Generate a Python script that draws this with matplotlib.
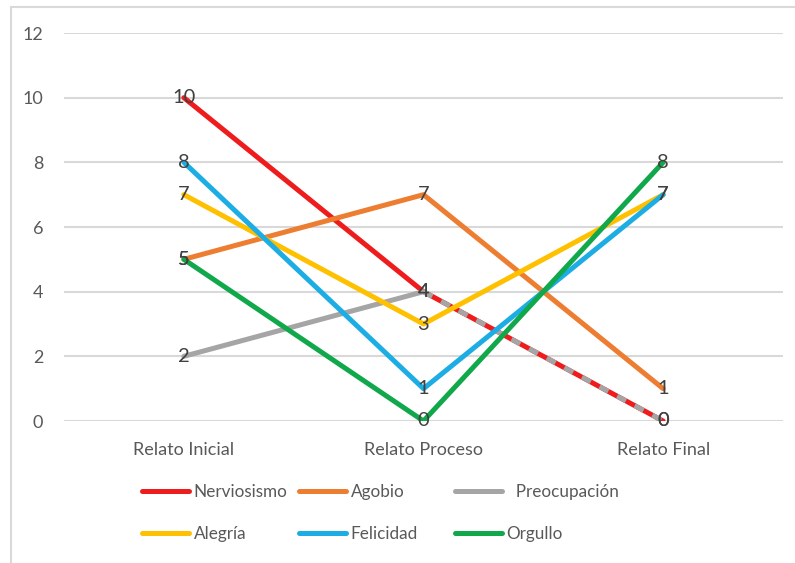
import numpy as np
import matplotlib
matplotlib.use("Agg")
import matplotlib.pyplot as plt
from matplotlib.patches import Rectangle
from matplotlib.lines import Line2D

plt.rcParams["font.family"] = ["Lato", "DejaVu Sans"]

etapas = ["Relato Inicial", "Relato Proceso", "Relato Final"]
nerviosismo = [10, 4, 0]
agobio = [5, 7, 1]
preocupacion = [2, 4, 0]
alegria = [7, 3, 7]
felicidad = [8, 1, 7]
orgullo = [5, 0, 8]

nombres = ["Nerviosismo", "Agobio", "Preocupación", "Alegría", "Felicidad", "Orgullo"]
series = [nerviosismo, agobio, preocupacion, alegria, felicidad, orgullo]
colores = ["#EE1C1C", "#ED7D31", "#A5A5A5", "#FFC000", "#1CADE4", "#10A84A"]

W, H = 795, 563
fig = plt.figure(figsize=(W / 100, H / 100), dpi=100)
ax = fig.add_axes([64 / W, (H - 421) / H, (783 - 64) / W, (421 - 33) / H])

# light frame around the chart area
fig.add_artist(Rectangle((11 / W, -0.1), 1.2, 1.1 - 7 / H, transform=fig.transFigure,
                         fill=False, edgecolor="#D9D9D9", linewidth=1.5))

x = np.arange(len(etapas))
lw = 3.6
for nombre, valores, color in zip(nombres, series, colores):
    valores = np.array(valores)
    if nombre == "Preocupación":
        # segments shared with Nerviosismo are drawn dashed so both stay visible
        comun = (valores[:-1] == nerviosismo[:-1]) & (valores[1:] == nerviosismo[1:])
        for i in range(len(x) - 1):
            seg = ax.plot(x[i:i + 2], valores[i:i + 2], color=color, lw=lw,
                          solid_capstyle="round", zorder=3)[0]
            if comun[i]:
                seg.set_dashes((2, 2))
                seg.set_dash_capstyle("butt")
    else:
        ax.plot(x, valores, color=color, lw=lw, solid_capstyle="round", zorder=3)
    for xi, v in zip(x, valores):
        ax.text(xi, v, str(v), ha="center", va="center", fontsize=14.5,
                color="#404040", zorder=5)

ax.set_xlim(-0.5, len(etapas) - 0.5)
ax.set_ylim(0, 12)
ax.set_yticks(range(0, 13, 2))
ax.set_xticks(x)
ax.set_xticklabels(etapas)
ax.tick_params(axis="both", length=0, labelsize=13, labelcolor="#595959")
ax.tick_params(axis="y", pad=15)
ax.tick_params(axis="x", pad=15)
ax.grid(axis="y", color="#D9D9D9", lw=1.5)
ax.set_axisbelow(True)
for s in ax.spines.values():
    s.set_visible(False)

# legend laid out in three fixed columns
columnas = [140, 297, 453]
for c, xc in enumerate(columnas):
    idx = [c, c + 3]
    handles = [Line2D([], [], color=colores[i], lw=lw, solid_capstyle="round") for i in idx]
    labels = [nombres[i] for i in idx]
    if c == 2:
        labels = ["  " + nombres[idx[0]], nombres[idx[1]]]
    leg = fig.legend(handles, labels, loc="upper left",
                     bbox_to_anchor=(xc / W + 0.003, 1 - 484 / H),
                     frameon=False, fontsize=12.3, handlelength=2.75,
                     handletextpad=0.25, labelspacing=1.5, borderpad=0,
                     borderaxespad=0)
    for t in leg.get_texts():
        t.set_color("#595959")

fig.savefig("out.png", dpi=100)
